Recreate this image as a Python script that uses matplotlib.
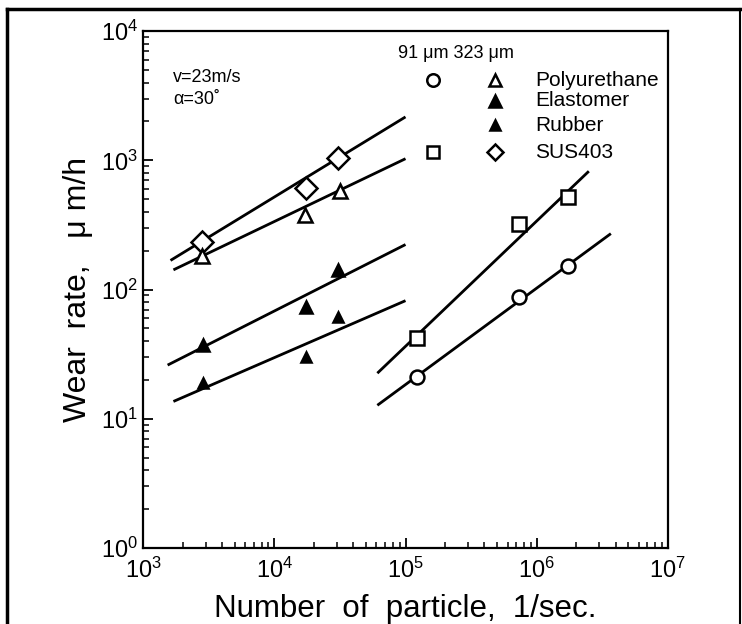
import matplotlib
matplotlib.use('Agg')
import matplotlib.pyplot as plt
from matplotlib.lines import Line2D

plt.rcParams['font.family'] = ['Liberation Sans', 'DejaVu Sans']
plt.rcParams['mathtext.fontset'] = 'custom'
plt.rcParams['mathtext.rm'] = 'Liberation Sans'
plt.rcParams['mathtext.default'] = 'regular'

# 323 um particles
sus323_x = [2800, 17300, 30500]
sus323_y = [233, 610, 1040]
poly323_x = [2800, 17000, 31600]
poly323_y = [182, 377, 578]
elast_x = [2870, 17300, 30700]
elast_y = [37, 73.5, 142]
rubber_x = [2870, 17300, 30700]
rubber_y = [19, 30, 61]
# 91 um particles
sus91_x = [122000, 737000, 1730000]
sus91_y = [42, 320, 517]
poly91_x = [122000, 737000, 1730000]
poly91_y = [21, 88, 151]

# drawn fit lines, end points
fit_sus323 = ([1615, 1e5], [168, 2170])
fit_poly323 = ([1700, 1e5], [142, 1030])
fit_elast = ([1535, 1e5], [26, 223])
fit_rubber = ([1700, 1e5], [13.6, 82])
fit_sus91 = ([61000, 2.5e6], [22.5, 824])
fit_poly91 = ([61000, 3.68e6], [12.7, 271])

xticks = [1e3, 1e4, 1e5, 1e6, 1e7]
yticks = [1e0, 1e1, 1e2, 1e3, 1e4]

fig = plt.figure(figsize=(7.42, 6.24), dpi=100)
ax = fig.add_axes([0.193, 0.122, 0.707, 0.828])
ax.set_xscale('log')
ax.set_yscale('log')
ax.set_xlim(1e3, 1e7)
ax.set_ylim(1e0, 1e4)
ax.set_xticks(xticks)
ax.set_yticks(yticks)

lw = 2.0
for fx, fy in [fit_sus323, fit_poly323, fit_elast, fit_rubber, fit_sus91, fit_poly91]:
    ax.plot(fx, fy, color='black', lw=lw, solid_capstyle='butt')

mk = dict(color='black', ls='none', markeredgewidth=1.8)
ax.plot(sus323_x, sus323_y, marker='D', ms=11, mfc='white', **mk)
ax.plot(poly323_x, poly323_y, marker='^', ms=10, mfc='white', **mk)
ax.plot(elast_x, elast_y, marker='^', ms=9, mfc='black', **mk)
ax.plot(rubber_x, rubber_y, marker='^', ms=7, mfc='black', **mk)
ax.plot(sus91_x, sus91_y, marker='s', ms=10, mfc='white', **mk)
ax.plot(poly91_x, poly91_y, marker='o', ms=10, mfc='white', **mk)

# legend drawn by hand
tr = ax.transAxes
ax.text(0.486, 0.957, '91 μm 323 μm', transform=tr, fontsize=13, va='center', ha='left')
rows = [
    (0.905, 'o', 'white', '^', 'white', 'Polyurethane'),
    (0.865, None, None, '^', 'black', 'Elastomer'),
    (0.818, None, None, '^', 'black', 'Rubber'),
    (0.766, 's', 'white', 'D', 'white', 'SUS403'),
]
for yy, m1, f1, m2, f2, label in rows:
    if m1:
        ax.plot([0.552], [yy], marker=m1, ms=9, mfc=f1, transform=tr, **mk)
    ms2 = 7 if label == 'Rubber' else 9
    if m2 == 'D':
        ms2 = 8
    ax.plot([0.670], [yy], marker=m2, ms=ms2, mfc=f2, transform=tr, **mk)
    ax.text(0.747, yy, label, transform=tr, fontsize=15, va='center', ha='left')

ax.text(0.057, 0.911, 'v=23m/s', transform=tr, fontsize=13, va='center')
ax.text(0.057, 0.867, 'α=30˚', transform=tr, fontsize=13, va='center')

ax.set_xlabel('Number  of  particle,  1/sec.', fontsize=22.5, labelpad=8)
ax.set_ylabel('Wear  rate,   μ m/h', fontsize=23, labelpad=6)

for s in ax.spines.values():
    s.set_linewidth(1.6)
ax.tick_params(which='both', direction='in', top=False, right=False, labelsize=17)
ax.tick_params(which='major', length=7, width=1.3)
ax.tick_params(which='minor', length=4, width=1.1)
ax.tick_params(axis='x', pad=7)

# outer frame of the scanned figure
fig.add_artist(Line2D([0.0094, 0.0094], [0.0, 0.986], color='black', lw=2.5, transform=fig.transFigure))
fig.add_artist(Line2D([0.0094, 0.997], [0.986, 0.986], color='black', lw=2.5, transform=fig.transFigure))
fig.add_artist(Line2D([0.997, 0.997], [0.0, 0.986], color='black', lw=1.5, transform=fig.transFigure))

fig.savefig('out.png', dpi=100)
